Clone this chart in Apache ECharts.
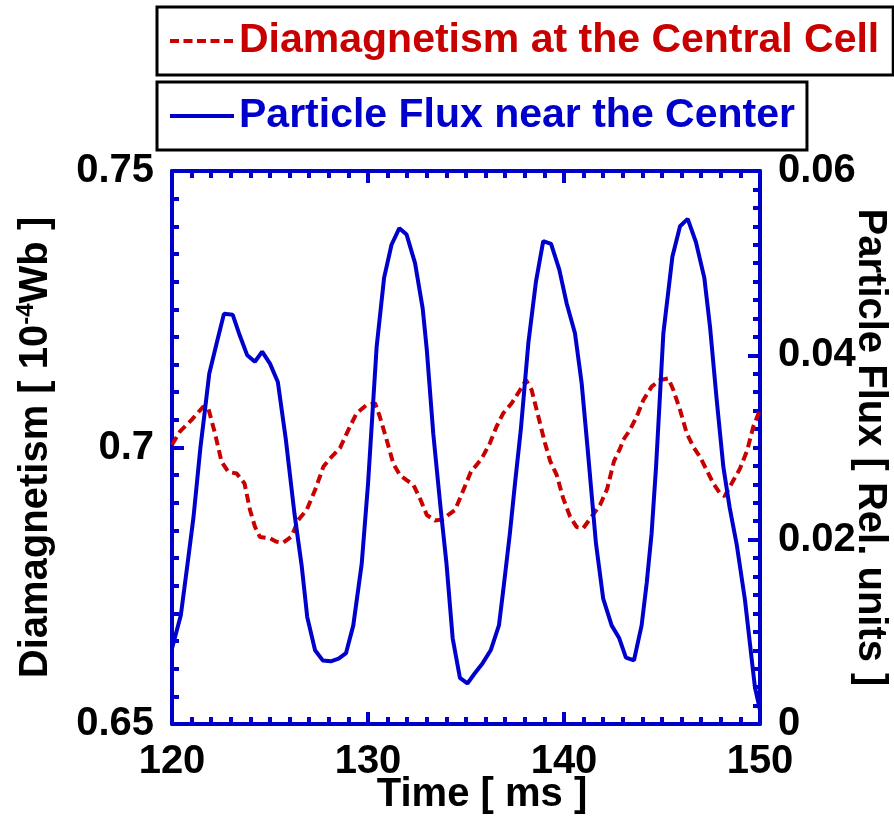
<!DOCTYPE html>
<html>
<head>
<meta charset="utf-8">
<script src="https://cdn.jsdelivr.net/npm/echarts@6/dist/echarts.min.js"></script>
<style>
html,body{margin:0;padding:0;background:#fff;}
#chart{width:894px;height:822px;}
</style>
</head>
<body>
<div id="chart"></div>
<script>
// ---- data ----
const xTickValues = [120, 130, 140, 150];
const leftTickLabels = ['0.65', '0.7', '0.75'];
const rightTickLabels = ['0', '0.02', '0.04', '0.06'];

const seriesNames = ['Diamagnetism at the Central Cell', 'Particle Flux near the Center'];

const diaTime = [120.0,120.41,121.0,121.6,121.85,122.19,122.53,122.87,123.3,123.7,123.98,124.23,124.49,125.0,125.3,125.68,126.1,126.44,126.87,127.3,127.72,128.06,128.57,129.0,129.42,129.93,130.36,130.6,130.95,131.29,131.63,131.97,132.31,132.65,133.0,133.42,133.8,134.1,134.44,134.75,135.25,135.8,136.22,136.56,136.9,137.33,137.76,138.06,138.35,138.69,139.03,139.3,139.63,139.96,140.31,140.65,140.98,141.41,141.84,142.2,142.55,142.86,143.03,143.37,143.71,144.05,144.47,144.9,145.32,145.58,145.92,146.26,146.6,146.94,147.28,147.62,147.96,148.2,148.6,148.98,149.35,149.66,150.0];
const diaValue = [0.7005,0.7029,0.7050,0.7074,0.7071,0.7026,0.6974,0.6956,0.6953,0.6935,0.6887,0.6857,0.6838,0.6836,0.6830,0.6828,0.6839,0.6869,0.6887,0.6923,0.6965,0.6980,0.6999,0.7032,0.7062,0.7077,0.7080,0.7056,0.7014,0.6971,0.6950,0.6941,0.6933,0.6908,0.6878,0.6868,0.6870,0.6878,0.6887,0.6913,0.6956,0.6980,0.7008,0.7038,0.7062,0.7080,0.7104,0.7122,0.7104,0.7056,0.7008,0.6975,0.6950,0.6908,0.6875,0.6856,0.6854,0.6875,0.6896,0.6925,0.6975,0.6998,0.7014,0.7032,0.7056,0.7086,0.7110,0.7122,0.7125,0.7104,0.7068,0.7026,0.7001,0.6983,0.6959,0.6935,0.6917,0.6912,0.6938,0.6962,0.6995,0.7038,0.7068];

const fluxTime = [120.0,120.45,120.8,121.1,121.45,121.65,121.9,122.3,122.65,123.1,123.45,123.84,124.23,124.6,125.0,125.4,125.8,126.25,126.62,126.9,127.3,127.69,128.1,128.5,128.88,129.25,129.68,130.0,130.44,130.82,131.2,131.6,131.97,132.4,132.79,133.0,133.33,133.7,134.0,134.32,134.69,135.07,135.45,135.85,136.26,136.68,136.9,137.24,137.5,137.8,138.18,138.57,138.94,139.34,139.76,140.14,140.56,140.9,141.2,141.63,142.0,142.43,142.82,143.16,143.57,143.96,144.22,144.47,144.7,145.07,145.53,145.92,146.31,146.73,147.16,147.45,147.79,148.13,148.45,148.81,149.23,149.74,150.0];
const fluxValue = [0.0082,0.0118,0.0175,0.0225,0.0300,0.0335,0.0380,0.0415,0.0445,0.0444,0.0422,0.0400,0.0393,0.0404,0.0391,0.0371,0.0310,0.0228,0.0171,0.0116,0.0080,0.0069,0.0068,0.0071,0.0077,0.0107,0.0174,0.0260,0.0409,0.0484,0.0520,0.0538,0.0531,0.0500,0.0451,0.0406,0.0315,0.0235,0.0175,0.0093,0.0050,0.0044,0.0055,0.0066,0.0080,0.0107,0.0145,0.0207,0.0261,0.0320,0.0413,0.0480,0.0524,0.0521,0.0493,0.0456,0.0424,0.0370,0.0300,0.0196,0.0136,0.0107,0.0093,0.0072,0.0069,0.0107,0.0153,0.0207,0.0280,0.0424,0.0507,0.0540,0.0548,0.0523,0.0484,0.0431,0.0352,0.0279,0.0235,0.0195,0.0135,0.0040,0.0015];

// ---- styling ----
const FONT = "'Liberation Sans', Arial, Helvetica, sans-serif";
const BLUE = '#0000cc';
const RED = '#c80000';

const zip = (a, b) => a.map((t, i) => [t, b[i]]);

const axisLineStyle = { show: true, lineStyle: { color: BLUE, width: 4 } };
const tickStyle = { show: true, inside: true, length: 12, lineStyle: { color: BLUE, width: 4 } };
const minorStyle = { show: true, splitNumber: 10, length: 7, lineStyle: { color: BLUE, width: 4 } };
const labelStyle = { fontFamily: FONT, fontWeight: 'bold', fontSize: 40, color: '#000', margin: 18 };

const chart = echarts.init(document.getElementById('chart'), null, { renderer: 'canvas' });

const legendBase = {
  left: 157, orient: 'horizontal', itemWidth: 64, itemHeight: 14,
  borderColor: '#000', borderWidth: 3, backgroundColor: '#fff', selectedMode: false,
  itemStyle: { opacity: 0 }
};

const option = {
  animation: false,
  backgroundColor: '#fff',
  grid: { left: 172, right: 134, top: 171, bottom: 98, containLabel: false, outerBoundsMode: 'none' },
  legend: [
    Object.assign({}, legendBase, {
      data: [seriesNames[0]], top: 7, padding: [12, 14, 12, 11],
      lineStyle: { width: 4, type: [9, 4.5], color: RED },
      textStyle: { fontFamily: FONT, fontWeight: 'bold', fontSize: 41, lineHeight: 44, color: RED }
    }),
    Object.assign({}, legendBase, {
      data: [seriesNames[1]], top: 82, padding: [12, 12, 12, 11],
      lineStyle: { width: 4, color: BLUE },
      textStyle: { fontFamily: FONT, fontWeight: 'bold', fontSize: 41, lineHeight: 44, color: BLUE }
    })
  ],
  xAxis: [
    {
      type: 'value', position: 'bottom', min: xTickValues[0], max: xTickValues[xTickValues.length - 1], interval: 10,
      axisLine: axisLineStyle, axisTick: tickStyle, minorTick: minorStyle,
      splitLine: { show: false }, minorSplitLine: { show: false },
      axisLabel: Object.assign({}, labelStyle, { formatter: v => String(v) }),
      name: 'Time [ ms ]', nameLocation: 'middle', nameGap: 51, nameMoveOverlap: false,
      nameTextStyle: { fontFamily: FONT, fontWeight: 'bold', fontSize: 40, color: '#000', padding: [0, 0, 0, 32] }
    },
    {
      type: 'value', position: 'top', min: xTickValues[0], max: xTickValues[xTickValues.length - 1], interval: 10,
      axisLine: axisLineStyle, axisTick: tickStyle, minorTick: minorStyle,
      splitLine: { show: false }, axisLabel: { show: false }
    }
  ],
  yAxis: [
    {
      type: 'value', position: 'left', min: 0.65, max: 0.75, interval: 0.05,
      axisLine: axisLineStyle, axisTick: tickStyle, minorTick: minorStyle,
      splitLine: { show: false },
      axisLabel: Object.assign({}, labelStyle, {
        formatter: v => leftTickLabels[Math.round((v - 0.65) / 0.05)]
      }),
      name: '{t|Diamagnetism [ 10}{s|-4}{t|Wb ]}', nameLocation: 'middle', nameGap: 114, nameRotate: 90,
      nameMoveOverlap: false,
      nameTextStyle: {
        rich: {
          t: { fontFamily: FONT, fontWeight: 'bold', fontSize: 40, lineHeight: 44, color: '#000' },
          s: { fontFamily: FONT, fontWeight: 'bold', fontSize: 24, lineHeight: 24, verticalAlign: 'top', color: '#000' }
        }
      }
    },
    {
      type: 'value', position: 'right', min: 0, max: 0.06, interval: 0.02,
      axisLine: axisLineStyle, axisTick: tickStyle, minorTick: minorStyle,
      splitLine: { show: false },
      axisLabel: Object.assign({}, labelStyle, {
        formatter: v => rightTickLabels[Math.round(v / 0.02)]
      }),
      name: 'Particle Flux [ Rel. units ]', nameLocation: 'middle', nameGap: 90, nameRotate: -90,
      nameMoveOverlap: false,
      nameTextStyle: { fontFamily: FONT, fontWeight: 'bold', fontSize: 40, color: '#000' }
    }
  ],
  series: [
    {
      name: seriesNames[0], type: 'line', xAxisIndex: 0, yAxisIndex: 0,
      data: zip(diaTime, diaValue), symbol: 'none', showSymbol: false,
      lineStyle: { color: RED, width: 4, type: [9, 5] }, itemStyle: { color: RED }, z: 2
    },
    {
      name: seriesNames[1], type: 'line', xAxisIndex: 0, yAxisIndex: 1,
      data: zip(fluxTime, fluxValue), symbol: 'none', showSymbol: false,
      lineStyle: { color: BLUE, width: 4 }, itemStyle: { color: BLUE }, z: 3
    }
  ]
};
chart.setOption(option);
</script>
</body>
</html>
